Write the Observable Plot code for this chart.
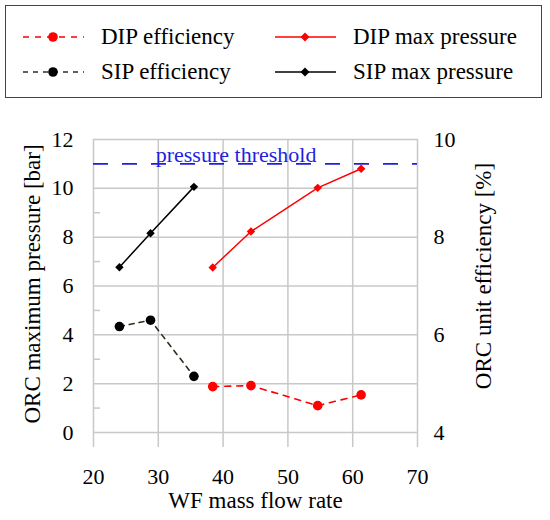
<!DOCTYPE html>
<html>
<head>
<meta charset="utf-8">
<script src="https://cdn.jsdelivr.net/npm/d3@7"></script>
<script src="https://cdn.jsdelivr.net/npm/@observablehq/plot@0.6"></script>
<style>
  body { margin: 0; background: #fff; font-family: "Liberation Serif", "DejaVu Serif", "Times New Roman", serif; }
  #wrap { position: relative; width: 550px; height: 520px; }
  #legend { position: absolute; left: 5px; top: 5px; width: 535px; height: 91px; border: 1px solid #444; }
  #legend .item { position: absolute; height: 30px; font-size: 23px; line-height: 30px; white-space: nowrap; color: #000; }
  #legend svg { position: absolute; top: 0; }
  #chart { position: absolute; left: 0; top: 100px; }
</style>
</head>
<body>
<div id="wrap">
  <div id="legend"></div>
  <div id="chart"></div>
</div>
<script>
// data
const massFlowSIP = [24.0, 28.8, 35.5];
const pressureSIP = [6.77, 8.16, 10.06];
const efficiencySIP = [6.17, 6.30, 5.15];

const massFlowDIP = [38.4, 44.3, 54.6, 61.3];
const pressureDIP = [6.76, 8.23, 10.02, 10.8];
const efficiencyDIP = [4.94, 4.96, 4.55, 4.77];

const pressureThreshold = 11;
const thresholdLabel = "pressure threshold";

const xTicks = [20, 30, 40, 50, 60, 70];
const yTicks = [0, 2, 4, 6, 8, 10, 12];
const yMinorTicks = [1, 3, 5, 7, 9, 11];
const effTicks = [4, 6, 8, 10];

const xDomain = [20, 70];
const yDomain = [0, 12];
const effDomain = [4, 10];

// efficiency is drawn on the pressure scale (secondary axis)
const effToP = e => (e - effDomain[0]) * (yDomain[1] - yDomain[0]) / (effDomain[1] - effDomain[0]) + yDomain[0];
const pToEff = p => effDomain[0] + (p - yDomain[0]) * (effDomain[1] - effDomain[0]) / (yDomain[1] - yDomain[0]);

const sip = massFlowSIP.map((x, i) => ({x, p: pressureSIP[i], e: efficiencySIP[i]}));
const dip = massFlowDIP.map((x, i) => ({x, p: pressureDIP[i], e: efficiencyDIP[i]}));

const serif = "'Liberation Serif', 'DejaVu Serif', 'Times New Roman', serif";
const red = "#ff0000";
const blue = "#1f1fe0";
const grid = "#c8c8c8";
const olive = "#2e2e1e";

const chart = Plot.plot({
  width: 550,
  height: 420,
  marginTop: 39,
  marginBottom: 88,
  marginLeft: 93,
  marginRight: 133,
  style: {fontFamily: serif, fontSize: "22px", color: "#000", background: "#fff"},
  x: {domain: xDomain},
  y: {domain: yDomain},
  marks: [
    Plot.gridX(xTicks, {stroke: grid, strokeOpacity: 1, strokeWidth: 1.5}),
    Plot.gridY(yTicks, {stroke: grid, strokeOpacity: 1, strokeWidth: 1.5}),
    Plot.ruleY(yMinorTicks, {stroke: grid, strokeWidth: 1.5, insetRight: 317}),
    Plot.axisX(xTicks, {tickSize: 15, tickPadding: 21, stroke: grid, strokeOpacity: 1, strokeWidth: 1.5, fill: "#000", fontSize: 22, label: null}),
    Plot.axisY(yTicks, {anchor: "left", tickSize: 0, tickPadding: 20, fill: "#000", fontSize: 22, label: null}),
    Plot.axisY(effTicks.map(effToP), {anchor: "right", tickSize: 0, tickPadding: 16, fill: "#000", fontSize: 22, label: null, tickFormat: p => pToEff(p)}),

    // pressure threshold
    Plot.ruleY([pressureThreshold], {stroke: blue, strokeWidth: 1.6, strokeDasharray: "15,14"}),
    Plot.text([thresholdLabel], {x: 42, y: pressureThreshold, text: d => d, fill: blue, fontSize: 22, textAnchor: "middle", lineAnchor: "bottom", dy: -2}),

    // SIP
    Plot.line(sip, {x: "x", y: "p", stroke: "#000", strokeWidth: 1.5}),
    Plot.dot(sip, {x: "x", y: "p", symbol: "diamond2", r: 3.8, fill: "#000"}),
    Plot.line(sip, {x: "x", y: d => effToP(d.e), stroke: olive, strokeWidth: 1.6, strokeDasharray: "5,5"}),
    Plot.dot(sip, {x: "x", y: d => effToP(d.e), r: 4.8, fill: "#000"}),

    // DIP
    Plot.line(dip, {x: "x", y: "p", stroke: red, strokeWidth: 1.5}),
    Plot.dot(dip, {x: "x", y: "p", symbol: "diamond2", r: 3.8, fill: red}),
    Plot.line(dip, {x: "x", y: d => effToP(d.e), stroke: red, strokeWidth: 1.6, strokeDasharray: "6,6"}),
    Plot.dot(dip, {x: "x", y: d => effToP(d.e), r: 4.8, fill: red}),

    // axis titles
    Plot.text(["ORC maximum pressure [bar]"], {frameAnchor: "left", text: d => d, rotate: -90, dx: -61, dy: -2, fontSize: 23, fill: "#000", textAnchor: "middle", lineAnchor: "middle"}),
    Plot.text(["ORC unit efficiency [%]"], {frameAnchor: "right", text: d => d, rotate: -90, dx: 66, dy: -10, fontSize: 23, fill: "#000", textAnchor: "middle", lineAnchor: "middle"}),
    Plot.text(["WF mass flow rate"], {frameAnchor: "bottom", text: d => d, dy: 68, fontSize: 23, fill: "#000", textAnchor: "middle", lineAnchor: "middle"})
  ]
});
document.getElementById("chart").append(chart);

// legend
const legendItems = [
  {label: "DIP efficiency", color: red, dash: "6,6", shape: "circle", left: 16, top: 16},
  {label: "DIP max pressure", color: red, dash: null, shape: "diamond", left: 268, top: 16},
  {label: "SIP efficiency", color: olive, marker: "#000", dash: "5,5", shape: "circle", left: 16, top: 51},
  {label: "SIP max pressure", color: "#000", dash: null, shape: "diamond", left: 268, top: 51}
];
const legend = d3.select("#legend");
legendItems.forEach(it => {
  const div = legend.append("div").attr("class", "item")
    .style("left", it.left + "px").style("top", it.top + "px");
  const svg = div.append("svg").attr("width", 64).attr("height", 30).style("left", "0px");
  svg.append("line").attr("x1", 1).attr("x2", 62).attr("y1", 15).attr("y2", 15)
    .attr("stroke", it.color).attr("stroke-width", 1.6)
    .attr("stroke-dasharray", it.dash);
  if (it.shape === "circle") {
    svg.append("circle").attr("cx", 31).attr("cy", 15).attr("r", 4.8).attr("fill", it.marker || it.color);
  } else {
    svg.append("path").attr("d", "M31,10.5L35.5,15L31,19.5L26.5,15Z").attr("fill", it.color);
  }
  div.append("span").style("position", "absolute").style("left", "79px").text(it.label);
});
</script>
</body>
</html>
